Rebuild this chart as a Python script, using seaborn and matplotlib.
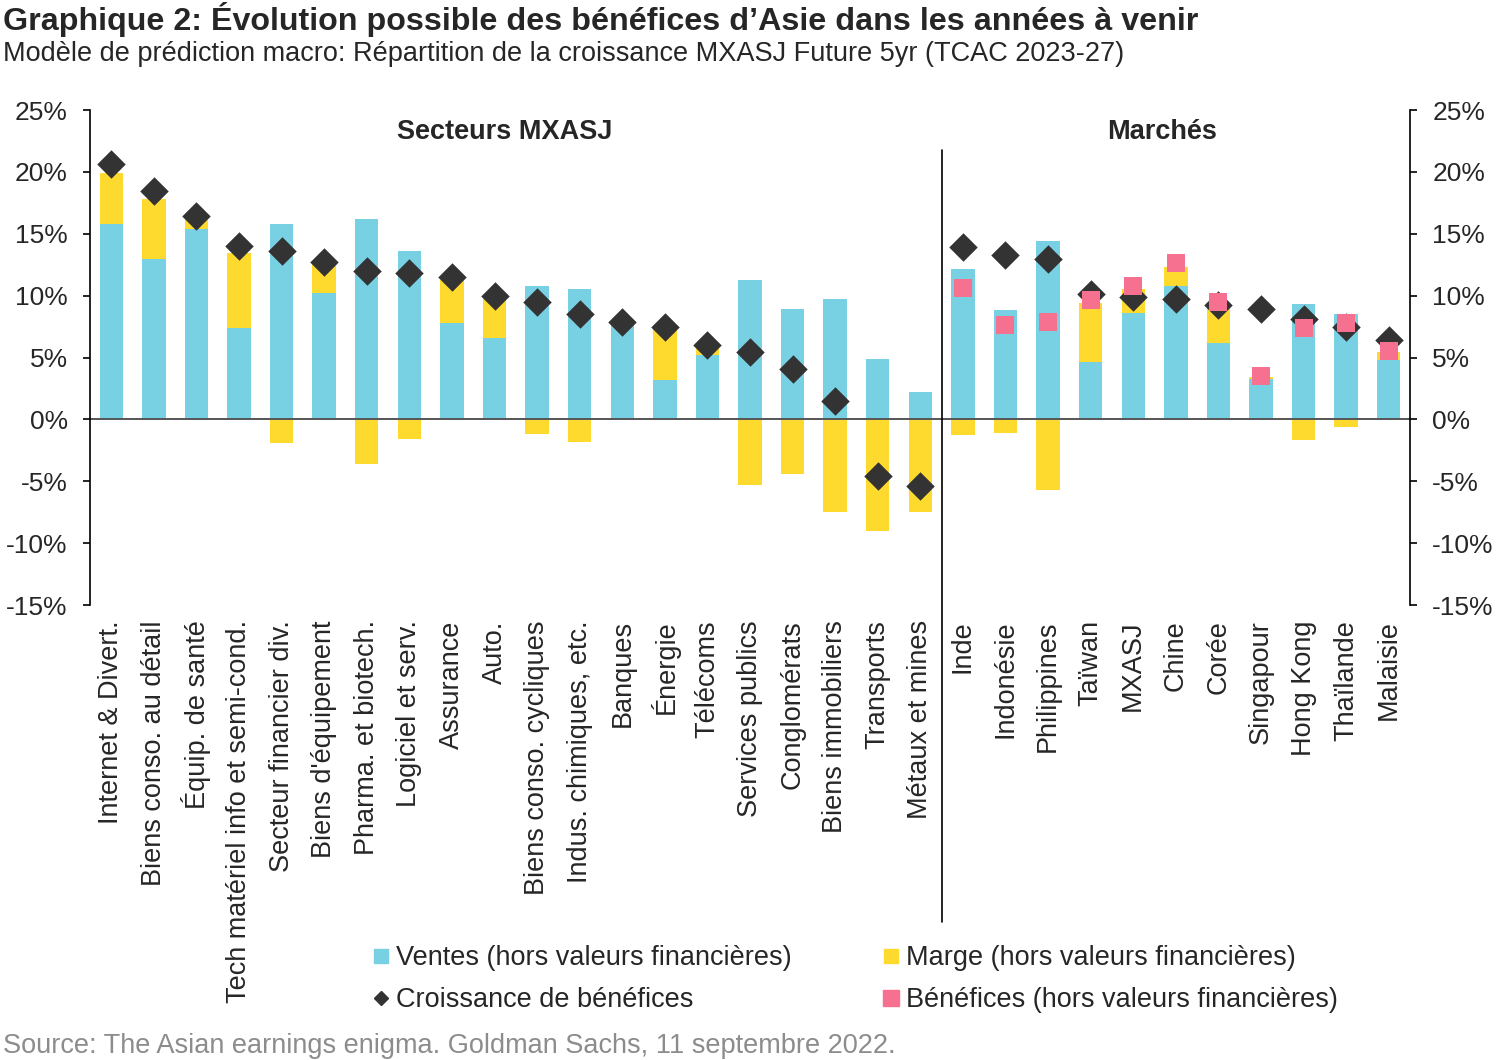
import numpy as np
import pandas as pd
import matplotlib
matplotlib.use("Agg")
import matplotlib.pyplot as plt
import seaborn as sns
from matplotlib.lines import Line2D
from matplotlib.ticker import FuncFormatter

# ---------------- data ----------------
sectors = ["Internet & Divert.", "Biens conso. au détail", "Équip. de santé",
           "Tech matériel info et semi-cond.", "Secteur financier div.",
           "Biens d'équipement", "Pharma. et biotech.", "Logiciel et serv.",
           "Assurance", "Auto.", "Biens conso. cycliques", "Indus. chimiques, etc.",
           "Banques", "Énergie", "Télécoms", "Services publics", "Conglomérats",
           "Biens immobiliers", "Transports", "Métaux et mines"]
markets = ["Inde", "Indonésie", "Philippines", "Taïwan", "MXASJ", "Chine",
           "Corée", "Singapour", "Hong Kong", "Thaïlande", "Malaisie"]

sales = [15.8, 13.0, 15.4, 7.4, 15.8, 10.2, 16.2, 13.6, 7.8, 6.55,
         10.8, 10.5, 7.8, 3.2, 5.2, 11.3, 8.95, 9.7, 4.9, 2.25,
         12.15, 8.8, 14.4, 4.65, 8.6, 10.8, 6.15, 3.25, 9.3, 8.5, 4.8]
margin = [4.1, 4.8, 0.8, 6.05, -1.9, 2.35, -3.6, -1.6, 3.5, 3.2,
          -1.2, -1.85, 0.0, 4.05, 0.6, -5.3, -4.4, -7.5, -9.0, -7.45,
          -1.3, -1.1, -5.7, 4.75, 1.9, 1.5, 2.9, 0.2, -1.7, -0.65, 0.65]
growth = [20.65, 18.45, 16.4, 14.0, 13.6, 12.75, 12.0, 11.85, 11.5, 9.95,
          9.5, 8.5, 7.9, 7.5, 6.0, 5.45, 4.1, 1.5, -4.6, -5.35,
          13.9, 13.3, 13.0, 10.1, 9.85, 9.75, 9.25, 8.9, 8.1, 7.5, 6.4]
market_profit = [10.65, 7.6, 7.9, 9.65, 10.75, 12.6, 9.45, 3.5, 7.4, 7.75, 5.5]

yticks = [-15, -10, -5, 0, 5, 10, 15, 20, 25]

# ---------------- style ----------------
BLUE = "#78D1E3"
YELLOW = "#FFDA2E"
DARK = "#333333"
PINK = "#F5718F"
FS = 19.5

sns.set_theme(style="white")
plt.rcParams["font.family"] = ["Liberation Sans", "DejaVu Sans"]

categories = sectors + markets
df = pd.DataFrame({"cat": categories, "sales": sales, "margin": margin, "growth": growth})
df["margin_top"] = np.where(df["margin"] > 0, df["sales"] + df["margin"], df["margin"])
mdf = pd.DataFrame({"cat": markets, "profit": market_profit})

fig = plt.figure(figsize=(15, 10.6), dpi=100)
ax = fig.add_axes([0.06, 1 - 605 / 1060, 0.88, 495 / 1060])

sns.barplot(data=df, x="cat", y="margin_top", order=categories, color=YELLOW,
            saturation=1, width=0.55, errorbar=None, linewidth=0, ax=ax)
sns.barplot(data=df, x="cat", y="sales", order=categories, color=BLUE,
            saturation=1, width=0.55, errorbar=None, linewidth=0, ax=ax)
ax.axhline(0, color="#555555", lw=1.4, zorder=2.5)
sns.stripplot(data=df, x="cat", y="growth", order=categories, jitter=False,
              marker="D", size=14.5, color=DARK, linewidth=0, ax=ax, zorder=3)
sns.stripplot(data=mdf, x="cat", y="profit", order=categories, jitter=False,
              marker="s", size=13, color=PINK, linewidth=0, ax=ax, zorder=4)

ax.set_xlim(-0.5, len(categories) - 0.5)
ax.set_ylim(-15, 25)
ax.set_yticks(yticks)
fmt = FuncFormatter(lambda v, p: f"{int(v)}%")
ax.yaxis.set_major_formatter(fmt)
ax.set_xlabel("")
ax.set_ylabel("")
for s in ["top", "bottom", "right"]:
    ax.spines[s].set_visible(False)
ax.spines["left"].set_color("black")
ax.spines["left"].set_linewidth(1.2)
ax.tick_params(axis="y", direction="out", length=5, width=1.2, color="black",
               labelsize=19, pad=11, left=True)
ax.tick_params(axis="x", length=0, pad=11, labelsize=FS, labelrotation=90)

ax2 = ax.twinx()
ax2.set_ylim(-15, 25)
ax2.set_yticks(yticks)
ax2.yaxis.set_major_formatter(fmt)
for s in ["top", "bottom", "left"]:
    ax2.spines[s].set_visible(False)
ax2.spines["right"].set_color("black")
ax2.spines["right"].set_linewidth(1.2)
ax2.tick_params(axis="y", direction="out", length=5, width=1.2, color="black",
                labelsize=19, pad=11, right=True)
ax2.grid(False)
ax.grid(False)

# divider between sectors and markets
ax.axvline(len(sectors) - 0.5, ymin=-0.64, ymax=0.919, color="black", lw=1.2,
           clip_on=False, zorder=5)

ax.text(0.314, 0.956, "Secteurs MXASJ", transform=ax.transAxes, ha="center",
        va="center", fontsize=FS, fontweight="bold")
ax.text(0.812, 0.956, "Marchés", transform=ax.transAxes, ha="center",
        va="center", fontsize=FS, fontweight="bold")

# titles
fig.text(0.002, 1 - 30 / 1060, "Graphique 2: Évolution possible des bénéfices d’Asie dans les années à venir",
         ha="left", va="baseline", fontsize=23.2, fontweight="bold")
fig.text(0.002, 1 - 61 / 1060, "Modèle de prédiction macro: Répartition de la croissance MXASJ Future 5yr (TCAC 2023-27)",
         ha="left", va="baseline", fontsize=19.5)
fig.text(0.002, 1 - 1053 / 1060, "Source: The Asian earnings enigma. Goldman Sachs, 11 septembre 2022.",
         ha="left", va="baseline", fontsize=19.5, color="#8C8C8C")

# legend
handles = [
    Line2D([], [], marker="s", color=BLUE, linestyle="none", markersize=10),
    Line2D([], [], marker="D", color=DARK, linestyle="none", markersize=7.2),
    Line2D([], [], marker="s", color=YELLOW, linestyle="none", markersize=9.5),
    Line2D([], [], marker="s", color=PINK, linestyle="none", markersize=11),
]
labels = ["Ventes (hors valeurs financières)", "Croissance de bénéfices",
          "Marge (hors valeurs financières)", "Bénéfices (hors valeurs financières)"]
fig.legend(handles=handles, labels=labels, ncol=2, loc="upper left",
           bbox_to_anchor=(372 / 1500, 1 - 945 / 1060), frameon=False,
           fontsize=FS, handlelength=0.7, handletextpad=0.2, columnspacing=3.3,
           labelspacing=0.6, borderpad=0, borderaxespad=0)

fig.savefig("out.png", dpi=100)
